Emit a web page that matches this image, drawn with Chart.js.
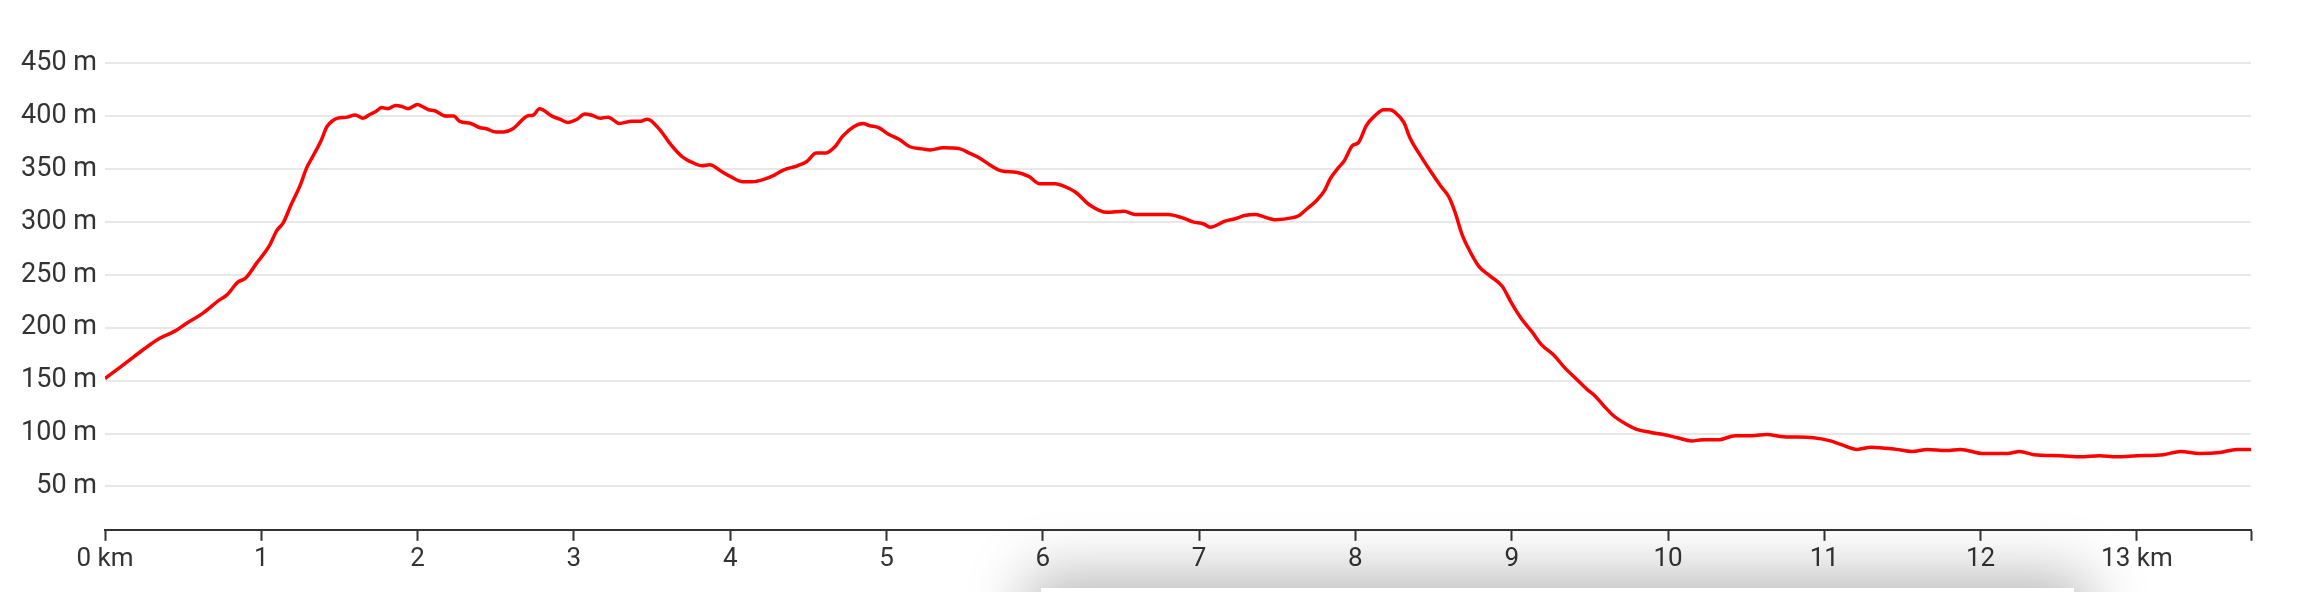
<!DOCTYPE html>
<html>
<head>
<meta charset="utf-8">
<title>Elevation profile</title>
<script src="https://cdn.jsdelivr.net/npm/chart.js@4.4.1/dist/chart.umd.min.js"></script>
<style>
    html, body { margin: 0; padding: 0; background: #fff; overflow: hidden; }
    #wrap { position: relative; width: 2298px; height: 592px; }
    #card {
        position: absolute; left: 1041px; top: 588px; width: 1033px; height: 120px;
        background: #fff; box-shadow: 0 0 60px 14px rgba(0, 0, 0, 0.28);
    }
</style>
</head>
<body>
<div id="wrap">
    <canvas id="elevationChart"></canvas>
    <div id="card"></div>
</div>
<script>
    'use strict';

    /* Profile data (km / m) */
    var distanceKm = [
        0, 0.10, 0.18, 0.27, 0.35, 0.45, 0.52, 0.62, 0.73, 0.78, 0.85, 0.90, 0.97, 1.05, 1.10, 1.14,
        1.19, 1.25, 1.29, 1.33, 1.38, 1.42, 1.46, 1.49, 1.55, 1.60, 1.65, 1.70, 1.73, 1.77, 1.81, 1.86,
        1.90, 1.94, 2.00, 2.03, 2.07, 2.11, 2.18, 2.23, 2.27, 2.34, 2.40, 2.44, 2.50, 2.55, 2.61, 2.66,
        2.70, 2.74, 2.78, 2.86, 2.91, 2.96, 3.02, 3.07, 3.11, 3.17, 3.22, 3.29, 3.37, 3.42, 3.47, 3.55,
        3.62, 3.69, 3.76, 3.82, 3.87, 3.94, 4.00, 4.08, 4.14, 4.21, 4.28, 4.34, 4.43, 4.49, 4.55, 4.61,
        4.67, 4.72, 4.79, 4.85, 4.89, 4.95, 5.01, 5.08, 5.15, 5.23, 5.28, 5.36, 5.47, 5.53, 5.60, 5.67,
        5.74, 5.83, 5.91, 5.98, 6.08, 6.13, 6.21, 6.30, 6.41, 6.52, 6.59, 6.70, 6.80, 6.89, 6.96, 7.03,
        7.07, 7.17, 7.23, 7.29, 7.36, 7.41, 7.49, 7.60, 7.64, 7.68, 7.75, 7.80, 7.84, 7.89, 7.93, 7.98,
        8.02, 8.07, 8.13, 8.18, 8.22, 8.25, 8.31, 8.35, 8.41, 8.48, 8.54, 8.60, 8.64, 8.68, 8.73, 8.79,
        8.86, 8.94, 9.00, 9.06, 9.13, 9.19, 9.27, 9.34, 9.41, 9.48, 9.53, 9.59, 9.65, 9.73, 9.80, 9.89,
        9.97, 10.06, 10.15, 10.22, 10.32, 10.43, 10.54, 10.63, 10.74, 10.93, 11.04, 11.10, 11.21, 11.30, 11.46, 11.56,
        11.66, 11.78, 11.87, 12.02, 12.17, 12.25, 12.34, 12.51, 12.64, 12.76, 12.87, 13.00, 13.17, 13.28, 13.40, 13.53,
        13.64, 13.73
    ];

    var elevationM = [
        152, 163, 172, 182, 190, 197, 204, 213, 226, 231, 243, 247, 261, 277, 292, 299,
        316, 335, 351, 362, 376, 390, 396, 398, 399, 401, 398, 402, 404, 408, 407, 410,
        409, 407, 411, 409, 406, 405, 400, 400, 395, 393, 389, 388, 385, 385, 388, 395,
        400, 401, 407, 400, 397, 394, 397, 402, 401, 398, 399, 393, 395, 395, 397, 387,
        373, 362, 356, 353, 354, 348, 343, 338, 338, 340, 344, 349, 353, 357, 365, 365,
        371, 381, 390, 393, 391, 389, 383, 378, 371, 369, 368, 370, 369, 365, 360, 353,
        348, 347, 343, 336, 336, 334, 328, 316, 309, 310, 307, 307, 307, 304, 300, 298,
        295, 301, 303, 306, 307, 305, 302, 304, 306, 311, 320, 329, 341, 351, 358, 372,
        375, 391, 401, 406, 406, 404, 394, 379, 364, 348, 335, 323, 308, 289, 273, 258,
        249, 239, 223, 209, 196, 184, 174, 162, 152, 142, 136, 126, 117, 109, 104, 101,
        99, 96, 93, 94, 94, 98, 98, 99, 97, 96, 93, 90, 85, 87, 85, 83,
        85, 84, 85, 81, 81, 83, 80, 79, 78, 79, 78, 79, 80, 83, 81, 82,
        85, 85
    ];

    var elevationTicks = [50, 100, 150, 200, 250, 300, 350, 400, 450];
    var distanceTicks = [0, 1, 2, 3, 4, 5, 6, 7, 8, 9, 10, 11, 12, 13];

    var totalKm = distanceKm[distanceKm.length - 1];

    var profilePoints = distanceKm.map(function (km, i) {
        return { x: km, y: elevationM[i] };
    });

    var ctx = document.getElementById('elevationChart').getContext('2d');
    var elevationChart = new Chart(ctx, {
        type: 'line',
        data: {
            datasets: [{
                data: profilePoints,
                borderColor: '#ff0000',
                borderWidth: 3.5,
                pointRadius: 0,
                fill: false,
                cubicInterpolationMode: 'monotone'
            }]
        },
        options: {
            responsive: true,
            maintainAspectRatio: false,
            animation: false,
            layout: {
                padding: { top: 42, right: 47, bottom: 14, left: 0 }
            },
            plugins: {
                legend: { display: false },
                tooltip: { enabled: false }
            },
            scales: {
                x: {
                    type: 'linear',
                    min: 0,
                    max: totalKm,
                    afterBuildTicks: function (scale) {
                        // whole km plus a mark at the end of the track
                        scale.ticks = distanceTicks.concat([totalKm]).map(function (v) {
                            return { value: v };
                        });
                    },
                    ticks: {
                        autoSkip: false,
                        maxRotation: 0,
                        padding: 3,
                        color: '#333',
                        font: { family: 'Roboto', size: 26 },
                        callback: function (value) {
                            if (!Number.isInteger(value)) return '';
                            if (value === 0 || value === 13) return value + ' km';
                            return String(value);
                        }
                    },
                    grid: {
                        drawOnChartArea: false,
                        tickLength: 11,
                        tickWidth: 2,
                        tickColor: '#333'
                    },
                    border: { color: '#333', width: 2 }
                },
                y: {
                    min: 9,
                    max: 470,
                    afterBuildTicks: function (scale) {
                        scale.ticks = elevationTicks.map(function (v) {
                            return { value: v };
                        });
                    },
                    afterFit: function (scale) {
                        scale.width = 105;
                    },
                    ticks: {
                        padding: 8,
                        color: '#333',
                        font: { family: 'Roboto', size: 27 },
                        callback: function (value) {
                            return value + ' m';
                        }
                    },
                    grid: {
                        color: '#e8e8e8',
                        lineWidth: 2,
                        drawTicks: false
                    },
                    border: { display: false }
                }
            }
        }
    });
</script>
</body>
</html>
